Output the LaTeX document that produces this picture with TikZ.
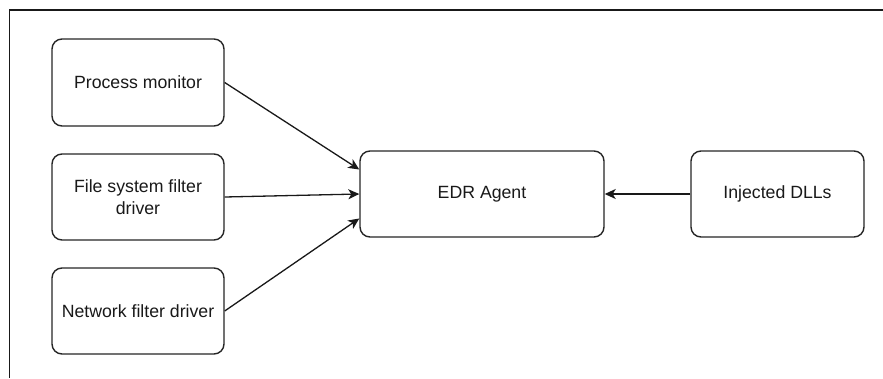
\documentclass[tikz,border=0pt]{standalone}
\usepackage{fontspec}
\setmainfont{Liberation Sans}
\usetikzlibrary{arrows.meta,calc}
\begin{document}
\begin{tikzpicture}[x=1pt,y=-1pt,
  box/.style={draw=black!85, line width=1.4pt, rounded corners=10pt, fill=white,
    align=center, inner sep=0pt, text=black!90,
    font=\fontsize{17.7}{21.7}\selectfont},
  link/.style={draw=black!90, line width=1.3pt,
    -{Stealth[length=11pt,width=10pt,inset=3pt]}},
  frameline/.style={draw=black!90, line width=1.5pt}]
  \useasboundingbox (0,0) rectangle (883,378);

  % outer frame edges
  \coordinate (fr-tl) at (9.5,10);
  \coordinate (fr-tr) at (883,10);
  \coordinate (fr-bl) at (9.5,378);
  \draw[frameline] (fr-tr) -- (fr-tl) -- (fr-bl);

  % sensor components
  \node[box, minimum width=172pt, minimum height=87pt] (pm) at (138,82.5) {Process monitor};
  \node[box, minimum width=172pt, minimum height=86pt] (fs) at (138,197) {File system filter\\driver};
  \node[box, minimum width=172pt, minimum height=86pt] (nf) at (138,311) {Network filter driver};

  % agent and injected modules
  \node[box, minimum width=244pt, minimum height=86pt] (edr) at (482,194) {EDR Agent};
  \node[box, minimum width=173pt, minimum height=86pt] (dll) at (777.5,194) {Injected DLLs};

  % entry points on the agent's left side
  \coordinate (edr-in1) at ($(edr.north west)!0.22!(edr.south west)$);
  \coordinate (edr-in3) at ($(edr.north west)!0.78!(edr.south west)$);

  \draw[link] (pm.east) -- (edr-in1);
  \draw[link] (fs.east) -- (edr.west);
  \draw[link] (nf.east) -- (edr-in3);
  \draw[link] (dll.west) -- (edr.east);
\end{tikzpicture}
\end{document}
